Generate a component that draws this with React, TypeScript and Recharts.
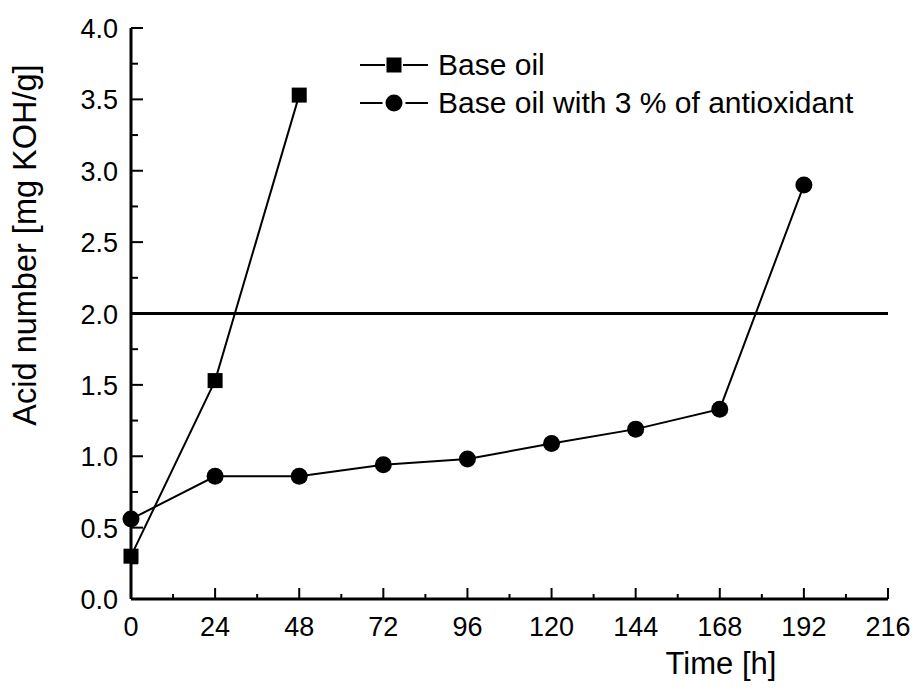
import React from 'react';
import { LineChart, Line, XAxis, YAxis, ReferenceLine, Legend } from 'recharts';

// time axis (h) and measured acid numbers
const hours = [0, 24, 48, 72, 96, 120, 144, 168, 192];
const baseOil = [0.3, 1.53, 3.53];
const withAntioxidant = [0.56, 0.86, 0.86, 0.94, 0.98, 1.09, 1.19, 1.33, 2.9];

const xMajorTicks = [0, 24, 48, 72, 96, 120, 144, 168, 192, 216];
const xMinorTicks = [12, 36, 60, 84, 108, 132, 156, 180, 204];
const yMajorTicks = [0, 0.5, 1, 1.5, 2, 2.5, 3, 3.5, 4];
const yMinorTicks = [0.25, 0.75, 1.25, 1.75, 2.25, 2.75, 3.25, 3.75];
const limitValue = 2.0;

const seriesNames = ['Base oil', 'Base oil with 3 % of antioxidant'];

const data = hours.map((h, i) => ({
  time: h,
  base: i < baseOil.length ? baseOil[i] : undefined,
  anti: withAntioxidant[i],
}));

const FONT = '"Liberation Sans", Arial, Helvetica, sans-serif';

const XTick = (props: any) => {
  const { x, y, payload } = props;
  const major = xMajorTicks.includes(payload.value);
  return (
    <g>
      <line x1={x} x2={x} y1={y} y2={y - (major ? 11 : 5)} stroke="#000" strokeWidth={2} />
      {major && (
        <text x={x} y={y + 37} textAnchor="middle" fontSize={27} fontFamily={FONT} fill="#000">
          {payload.value}
        </text>
      )}
    </g>
  );
};

const YTick = (props: any) => {
  const { x, y, payload } = props;
  const major = yMajorTicks.includes(payload.value);
  return (
    <g>
      <line x1={x} x2={x + (major ? 12 : 7)} y1={y} y2={y} stroke="#000" strokeWidth={2} />
      {major && (
        <text x={x - 13} y={y + 10} textAnchor="end" fontSize={27} fontFamily={FONT} fill="#000">
          {payload.value.toFixed(1)}
        </text>
      )}
    </g>
  );
};

const Square = (props: any) => {
  const { cx, cy, index } = props;
  if (cx == null || cy == null) return <g key={index} />;
  return <rect key={index} x={cx - 7.5} y={cy - 7.5} width={15} height={15} fill="#000" />;
};

const Dot = (props: any) => {
  const { cx, cy, index } = props;
  if (cx == null || cy == null) return <g key={index} />;
  return <circle key={index} cx={cx} cy={cy} r={8.5} fill="#000" />;
};

const renderLegend = () => (
  <div style={{ fontFamily: FONT, fontSize: 30, color: '#000' }}>
    {seriesNames.map((name, i) => (
      <div key={name} style={{ display: 'flex', alignItems: 'center', height: 38, whiteSpace: 'nowrap' }}>
        <svg width={70} height={22} style={{ marginRight: 8 }}>
          <line x1={0} x2={68} y1={11} y2={11} stroke="#000" strokeWidth={2} />
          {i === 0 ? (
            <rect x={26.5} y={3.5} width={15} height={15} fill="#000" stroke="#fff" strokeWidth={3} paintOrder="stroke" />
          ) : (
            <circle cx={34} cy={11} r={10} fill="#000" stroke="#fff" strokeWidth={3} />
          )}
        </svg>
        <span>{name}</span>
      </div>
    ))}
  </div>
);

const App = () => (
  <div style={{ position: 'absolute', left: 0, top: 0, background: '#fff' }}>
    <LineChart width={914} height={689} data={data} margin={{ top: 28, right: 26, left: 0, bottom: 0 }}>
      <XAxis
        dataKey="time"
        type="number"
        domain={[0, 216]}
        ticks={[...xMajorTicks, ...xMinorTicks]}
        interval={0}
        height={90}
        tickSize={0}
        tickMargin={0}
        tickLine={false}
        tick={XTick}
        axisLine={{ stroke: '#000', strokeWidth: 3 }}
        label={(p: any) => {
          const vb = p.viewBox;
          return (
            <text x={vb.x + 590} y={vb.y + 75} textAnchor="middle" fontSize={31} fontFamily={FONT} fill="#000">
              Time [h]
            </text>
          );
        }}
      />
      <XAxis xAxisId="top" dataKey="time" type="number" domain={[0, 216]} orientation="top" height={0}
        tick={false} tickLine={false} axisLine={{ stroke: '#000', strokeWidth: 3 }} />
      <YAxis
        type="number"
        domain={[0, 4]}
        ticks={[...yMajorTicks, ...yMinorTicks]}
        interval={0}
        width={131}
        tickSize={0}
        tickMargin={0}
        tickLine={false}
        tick={YTick}
        axisLine={{ stroke: '#000', strokeWidth: 3 }}
        label={(p: any) => {
          const vb = p.viewBox;
          const cx = vb.x + 36;
          const cy = 245;
          return (
            <text x={cx} y={cy} transform={`rotate(-90 ${cx} ${cy})`} textAnchor="middle" fontSize={32.5}
              fontFamily={FONT} fill="#000">
              Acid number [mg KOH/g]
            </text>
          );
        }}
      />
      <YAxis yAxisId="right" orientation="right" type="number" domain={[0, 4]} width={0}
        tick={false} tickLine={false} axisLine={{ stroke: '#000', strokeWidth: 3 }} />
      <ReferenceLine y={limitValue} stroke="#000" strokeWidth={3} />
      <Line dataKey="base" name={seriesNames[0]} stroke="#000" strokeWidth={2} dot={Square}
        isAnimationActive={false} connectNulls={false} />
      <Line dataKey="anti" name={seriesNames[1]} stroke="#000" strokeWidth={2} dot={Dot}
        isAnimationActive={false} />
      <Legend layout="vertical" align="center" verticalAlign="middle" content={renderLegend}
        wrapperStyle={{ left: 360, top: 46, width: 'auto' }} />
    </LineChart>
  </div>
);

export default App;
